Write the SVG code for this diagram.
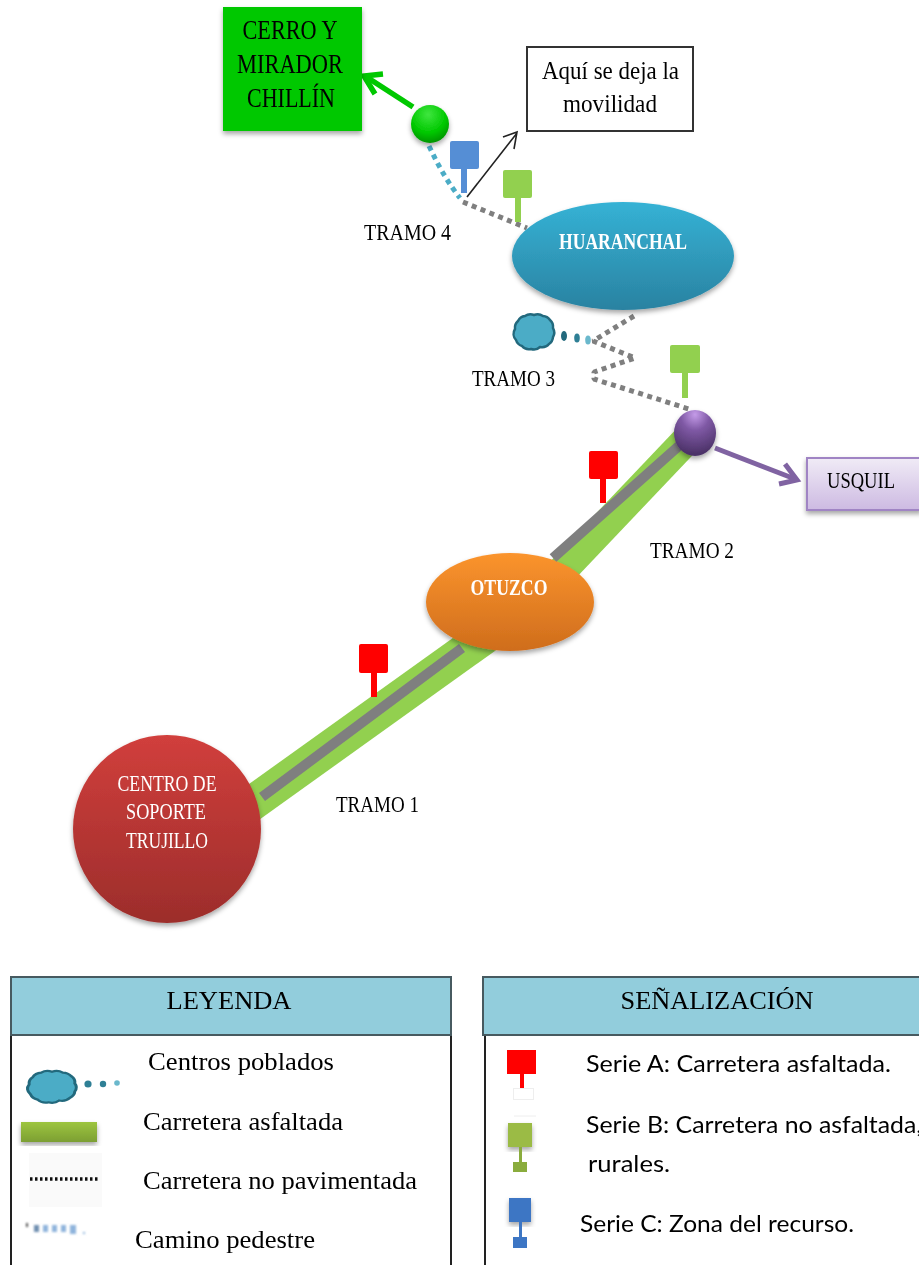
<svg xmlns="http://www.w3.org/2000/svg" xmlns:xlink="http://www.w3.org/1999/xlink" width="919" height="1265" viewBox="0 0 919 1265">
<style>
text{font-family:"Liberation Serif","Times New Roman",serif;fill:#000}
.w{fill:#fff;font-size:24px;text-anchor:middle}
.big{font-size:27px;text-anchor:middle}
.tr{font-size:23px}
.lg{font-size:26px}
.sg{font-family:Lato,"Open Sans",sans-serif;font-size:22.5px}
.head{fill:#92cddc;stroke:#465a60;stroke-width:2}
.edge{stroke:#222;stroke-width:2;fill:none}
.band{stroke:#92d050;fill:none}
.asph{stroke:#7f7f7f;stroke-width:10;fill:none}
.dots{stroke:#7f7f7f;stroke-width:5;stroke-dasharray:5 4.5;fill:none;stroke-linejoin:bevel}
.teal{stroke:#4bacc6;stroke-width:5;stroke-dasharray:5 4.5;fill:none}
.cloud{fill:#4bacc6;stroke:#23697d;stroke-width:2.5}
</style>
<defs>
<filter id="all" filterUnits="userSpaceOnUse" x="0" y="0" width="919" height="1265"><feGaussianBlur stdDeviation="0.4"/></filter>
<filter id="sh" x="-20%" y="-20%" width="140%" height="140%"><feDropShadow dx="0" dy="3" stdDeviation="2.5" flood-color="#000" flood-opacity=".35"/></filter>
<filter id="soft" x="-30%" y="-60%" width="160%" height="220%"><feGaussianBlur stdDeviation="1"/></filter>
<linearGradient id="gR" x1="0" y1="0" x2="0" y2="1"><stop offset="0" stop-color="#d13f3c"/><stop offset="1" stop-color="#9c2d2b"/></linearGradient>
<linearGradient id="gO" x1="0" y1="0" x2="0" y2="1"><stop offset="0" stop-color="#fb942d"/><stop offset="1" stop-color="#cf6d1c"/></linearGradient>
<linearGradient id="gB" x1="0" y1="0" x2="0" y2="1"><stop offset="0" stop-color="#35b2d5"/><stop offset="1" stop-color="#2a82a1"/></linearGradient>
<linearGradient id="gU" x1="0" y1="0" x2="0" y2="1"><stop offset="0" stop-color="#f0ebf6"/><stop offset="1" stop-color="#cdbae2"/></linearGradient>
<linearGradient id="gL" x1="0" y1="0" x2="0" y2="1"><stop offset="0" stop-color="#9dc53f"/><stop offset="1" stop-color="#7c9f33"/></linearGradient>
<radialGradient id="gG" cx=".45" cy=".25" r=".8"><stop offset="0" stop-color="#3fe63f"/><stop offset=".6" stop-color="#00c800"/><stop offset="1" stop-color="#008a00"/></radialGradient>
<radialGradient id="gP" cx=".5" cy=".1" r=".85"><stop offset="0" stop-color="#c49be8"/><stop offset=".4" stop-color="#7f59a5"/><stop offset="1" stop-color="#4c3268"/></radialGradient>
<path id="cl" d="M-19,-3 A9,9 0 0 1 -16,-11 A9,9 0 0 1 -9,-16 A9,9 0 0 1 0,-17 A9,9 0 0 1 9,-16 A9,9 0 0 1 16,-12 A9,9 0 0 1 19,-4 A9,9 0 0 1 19,5 A9,9 0 0 1 15,12 A9,9 0 0 1 6,15 A9,9 0 0 1 -3,17 A9,9 0 0 1 -12,14 A9,9 0 0 1 -18,8 A9,9 0 0 1 -19,-3 Z"/>
</defs>
<rect width="919" height="1265" fill="#fff"/>
<g filter="url(#all)">
<g id="connectors">
<path class="band" stroke-width="35" d="M240,812 L490,633"/>
<path class="band" stroke-width="30" d="M560,573 L695,431"/>
<path class="asph" d="M262,797 L462,648"/>
<path class="teal" d="M429,146 Q444,178 460,198"/>
<path class="dots" d="M463,202 L527,228"/>
<path class="dots" d="M634,316 L593,341 L635,358 L594,372 L594,379 L692,410"/>
<g fill="none" stroke="#00c800" stroke-width="5.500"><path d="M413,107 L365,76"/><path d="M383,74 L364,76 L375,94"/></g>
<path d="M467,197 L517,133 M503,137 L517,132 L514,149" fill="none" stroke="#222" stroke-width="1.600"/>
<g fill="none" stroke="#8064a2" stroke-width="5"><path d="M715,448 L795,479"/><path d="M785,464 L797,480 L779,484"/></g>
<ellipse cx="564" cy="336" rx="3" ry="5" fill="#23697d"/><ellipse cx="577" cy="338" rx="2.800" ry="4.500" fill="#2f7f95"/><ellipse cx="588" cy="340" rx="2.800" ry="4.500" fill="#6bb8cc"/>
</g>
<g id="node-otuzco"><ellipse cx="510" cy="602" rx="84" ry="49" fill="url(#gO)" filter="url(#sh)"/>
<text class="w" x="509" y="595" font-weight="bold" font-size="23" textLength="77" lengthAdjust="spacingAndGlyphs">OTUZCO</text></g>
<g id="connectors-top"><path class="asph" d="M553,558 L690,436"/></g>
<g id="node-cerro"><rect x="223" y="7" width="139" height="124" fill="#00c800" filter="url(#sh)"/>
<text class="big" x="290" y="39" textLength="95" lengthAdjust="spacingAndGlyphs">CERRO Y</text>
<text class="big" x="290" y="73" textLength="106" lengthAdjust="spacingAndGlyphs">MIRADOR</text>
<text class="big" x="291" y="107" textLength="88" lengthAdjust="spacingAndGlyphs">CHILLÍN</text></g>
<g id="node-mirador-dot"><circle cx="430" cy="124" r="19" fill="url(#gG)" filter="url(#sh)"/></g>
<g id="sign-c"><rect x="450" y="141" width="29" height="28" rx="2" fill="#558ed5"/><rect x="461" y="168" width="6" height="25" fill="#558ed5"/></g>
<g id="note-movilidad"><rect x="527" y="47" width="166" height="84" fill="#fff" stroke="#333" stroke-width="2"/>
<text x="610.500" y="79" text-anchor="middle" font-size="26" textLength="137" lengthAdjust="spacingAndGlyphs">Aquí se deja la</text>
<text x="610" y="112" text-anchor="middle" font-size="26" textLength="94" lengthAdjust="spacingAndGlyphs">movilidad</text></g>
<g id="sign-b1"><rect x="503" y="170" width="29" height="28" rx="2" fill="#92d050"/><rect x="515" y="197" width="6" height="25" fill="#92d050"/></g>
<g id="node-huaranchal"><ellipse cx="623" cy="256" rx="111" ry="54" fill="url(#gB)" filter="url(#sh)"/>
<text class="w" x="623" y="249" font-weight="bold" font-size="21" textLength="128" lengthAdjust="spacingAndGlyphs">HUARANCHAL</text></g>
<g id="node-centro-poblado"><use xlink:href="#cl" href="#cl" class="cloud" transform="translate(534,332)"/></g>
<g id="sign-b2"><rect x="670" y="345" width="30" height="28" rx="2" fill="#92d050"/><rect x="682" y="372" width="6" height="26" fill="#92d050"/></g>
<g id="node-junction"><ellipse cx="695" cy="433" rx="21" ry="23" fill="url(#gP)" filter="url(#sh)"/></g>
<g id="node-usquil"><rect x="807" y="458" width="114" height="52" fill="url(#gU)" stroke="#a084c4" stroke-width="2" filter="url(#sh)"/>
<text x="827" y="488" font-size="24" textLength="68" lengthAdjust="spacingAndGlyphs">USQUIL</text></g>
<g id="sign-a2"><rect x="589" y="451" width="29" height="28" rx="2" fill="#f00"/><rect x="600" y="478" width="6" height="25" fill="#f00"/></g>
<g id="sign-a1"><rect x="359" y="644" width="29" height="29" rx="2" fill="#f00"/><rect x="371" y="672" width="6" height="25" fill="#f00"/></g>
<g id="node-trujillo"><circle cx="167" cy="829" r="94" fill="url(#gR)" filter="url(#sh)"/>
<text class="w" x="167" y="791" textLength="99" lengthAdjust="spacingAndGlyphs">CENTRO DE</text>
<text class="w" x="166" y="819" textLength="80" lengthAdjust="spacingAndGlyphs">SOPORTE</text>
<text class="w" x="167" y="848" textLength="82" lengthAdjust="spacingAndGlyphs">TRUJILLO</text></g>
<g id="tramos">
<text class="tr" x="364" y="240" textLength="87" lengthAdjust="spacingAndGlyphs">TRAMO 4</text>
<text class="tr" x="472" y="386" textLength="83" lengthAdjust="spacingAndGlyphs">TRAMO 3</text>
<text class="tr" x="650" y="558" textLength="84" lengthAdjust="spacingAndGlyphs">TRAMO 2</text>
<text class="tr" x="336" y="812" textLength="83" lengthAdjust="spacingAndGlyphs">TRAMO 1</text>
</g>
<g id="leyenda">
<path class="edge" d="M11,1035 V1265 M451,1035 V1265"/>
<rect class="head" x="11" y="977" width="440" height="58"/>
<text x="229" y="1009" text-anchor="middle" font-size="26" textLength="125" lengthAdjust="spacingAndGlyphs">LEYENDA</text>
<use xlink:href="#cl" href="#cl" class="cloud" transform="translate(52,1087) scale(1.2,.9)"/>
<circle cx="88" cy="1084" r="3.600" fill="#2f7f95"/><circle cx="103" cy="1084" r="3.200" fill="#2f7f95"/><circle cx="117" cy="1083" r="2.800" fill="#6bb8cc"/>
<rect x="21" y="1122" width="76" height="20" fill="url(#gL)" filter="url(#sh)"/>
<rect x="29" y="1153" width="73" height="54" fill="#fafafa"/>
<path d="M30,1179 H100" stroke="#111" stroke-width="3.500" stroke-dasharray="2.500 2.500" fill="none"/>
<g filter="url(#soft)" fill="#8fb4dc"><rect x="26" y="1223" width="2" height="4" fill="#555"/><rect x="34" y="1225" width="5" height="7" fill="#6f8fb0"/><rect x="43" y="1225" width="5" height="7"/><rect x="52" y="1225" width="5" height="7"/><rect x="61" y="1225" width="5" height="7"/><rect x="70" y="1225" width="6" height="9"/><rect x="83" y="1232" width="2" height="2"/></g>
<text class="lg" x="148" y="1070" textLength="186" lengthAdjust="spacingAndGlyphs">Centros poblados</text>
<text class="lg" x="143" y="1130" textLength="200" lengthAdjust="spacingAndGlyphs">Carretera asfaltada</text>
<text class="lg" x="143" y="1189" textLength="274" lengthAdjust="spacingAndGlyphs">Carretera no pavimentada</text>
<text class="lg" x="135" y="1248" textLength="180" lengthAdjust="spacingAndGlyphs">Camino pedestre</text>
</g>
<g id="senalizacion">
<path class="edge" d="M485,1035 V1265"/>
<rect class="head" x="483" y="977" width="440" height="58"/>
<text x="717" y="1009" text-anchor="middle" font-size="26" textLength="193" lengthAdjust="spacingAndGlyphs">SEÑALIZACIÓN</text>
<rect x="507" y="1050" width="29" height="24" fill="#f00"/><rect x="520" y="1074" width="4" height="14" fill="#f00"/><rect x="513.500" y="1088.500" width="20" height="11" fill="#fff" stroke="#eee"/>
<path d="M514,1116 H536" stroke="#eee" stroke-width="1"/>
<rect x="508" y="1123" width="24" height="24" fill="#9bbb45" filter="url(#sh)"/><rect x="519" y="1147" width="3" height="15" fill="#8aac3e"/><rect x="513" y="1162" width="14" height="10" fill="#8aac3e"/>
<rect x="509" y="1198" width="22" height="24" fill="#3d76c4" filter="url(#sh)"/><rect x="519" y="1222" width="3" height="15" fill="#3d76c4"/><rect x="513" y="1237" width="14" height="11" fill="#3d76c4"/>
<text class="sg" x="586" y="1072" textLength="305" lengthAdjust="spacingAndGlyphs">Serie A: Carretera asfaltada.</text>
<text class="sg" x="586" y="1133" textLength="336" lengthAdjust="spacingAndGlyphs">Serie B: Carretera no asfaltada,</text>
<text class="sg" x="588" y="1172" textLength="82" lengthAdjust="spacingAndGlyphs">rurales.</text>
<text class="sg" x="580" y="1232" textLength="274" lengthAdjust="spacingAndGlyphs">Serie C: Zona del recurso.</text>
</g>
</g>
</svg>
